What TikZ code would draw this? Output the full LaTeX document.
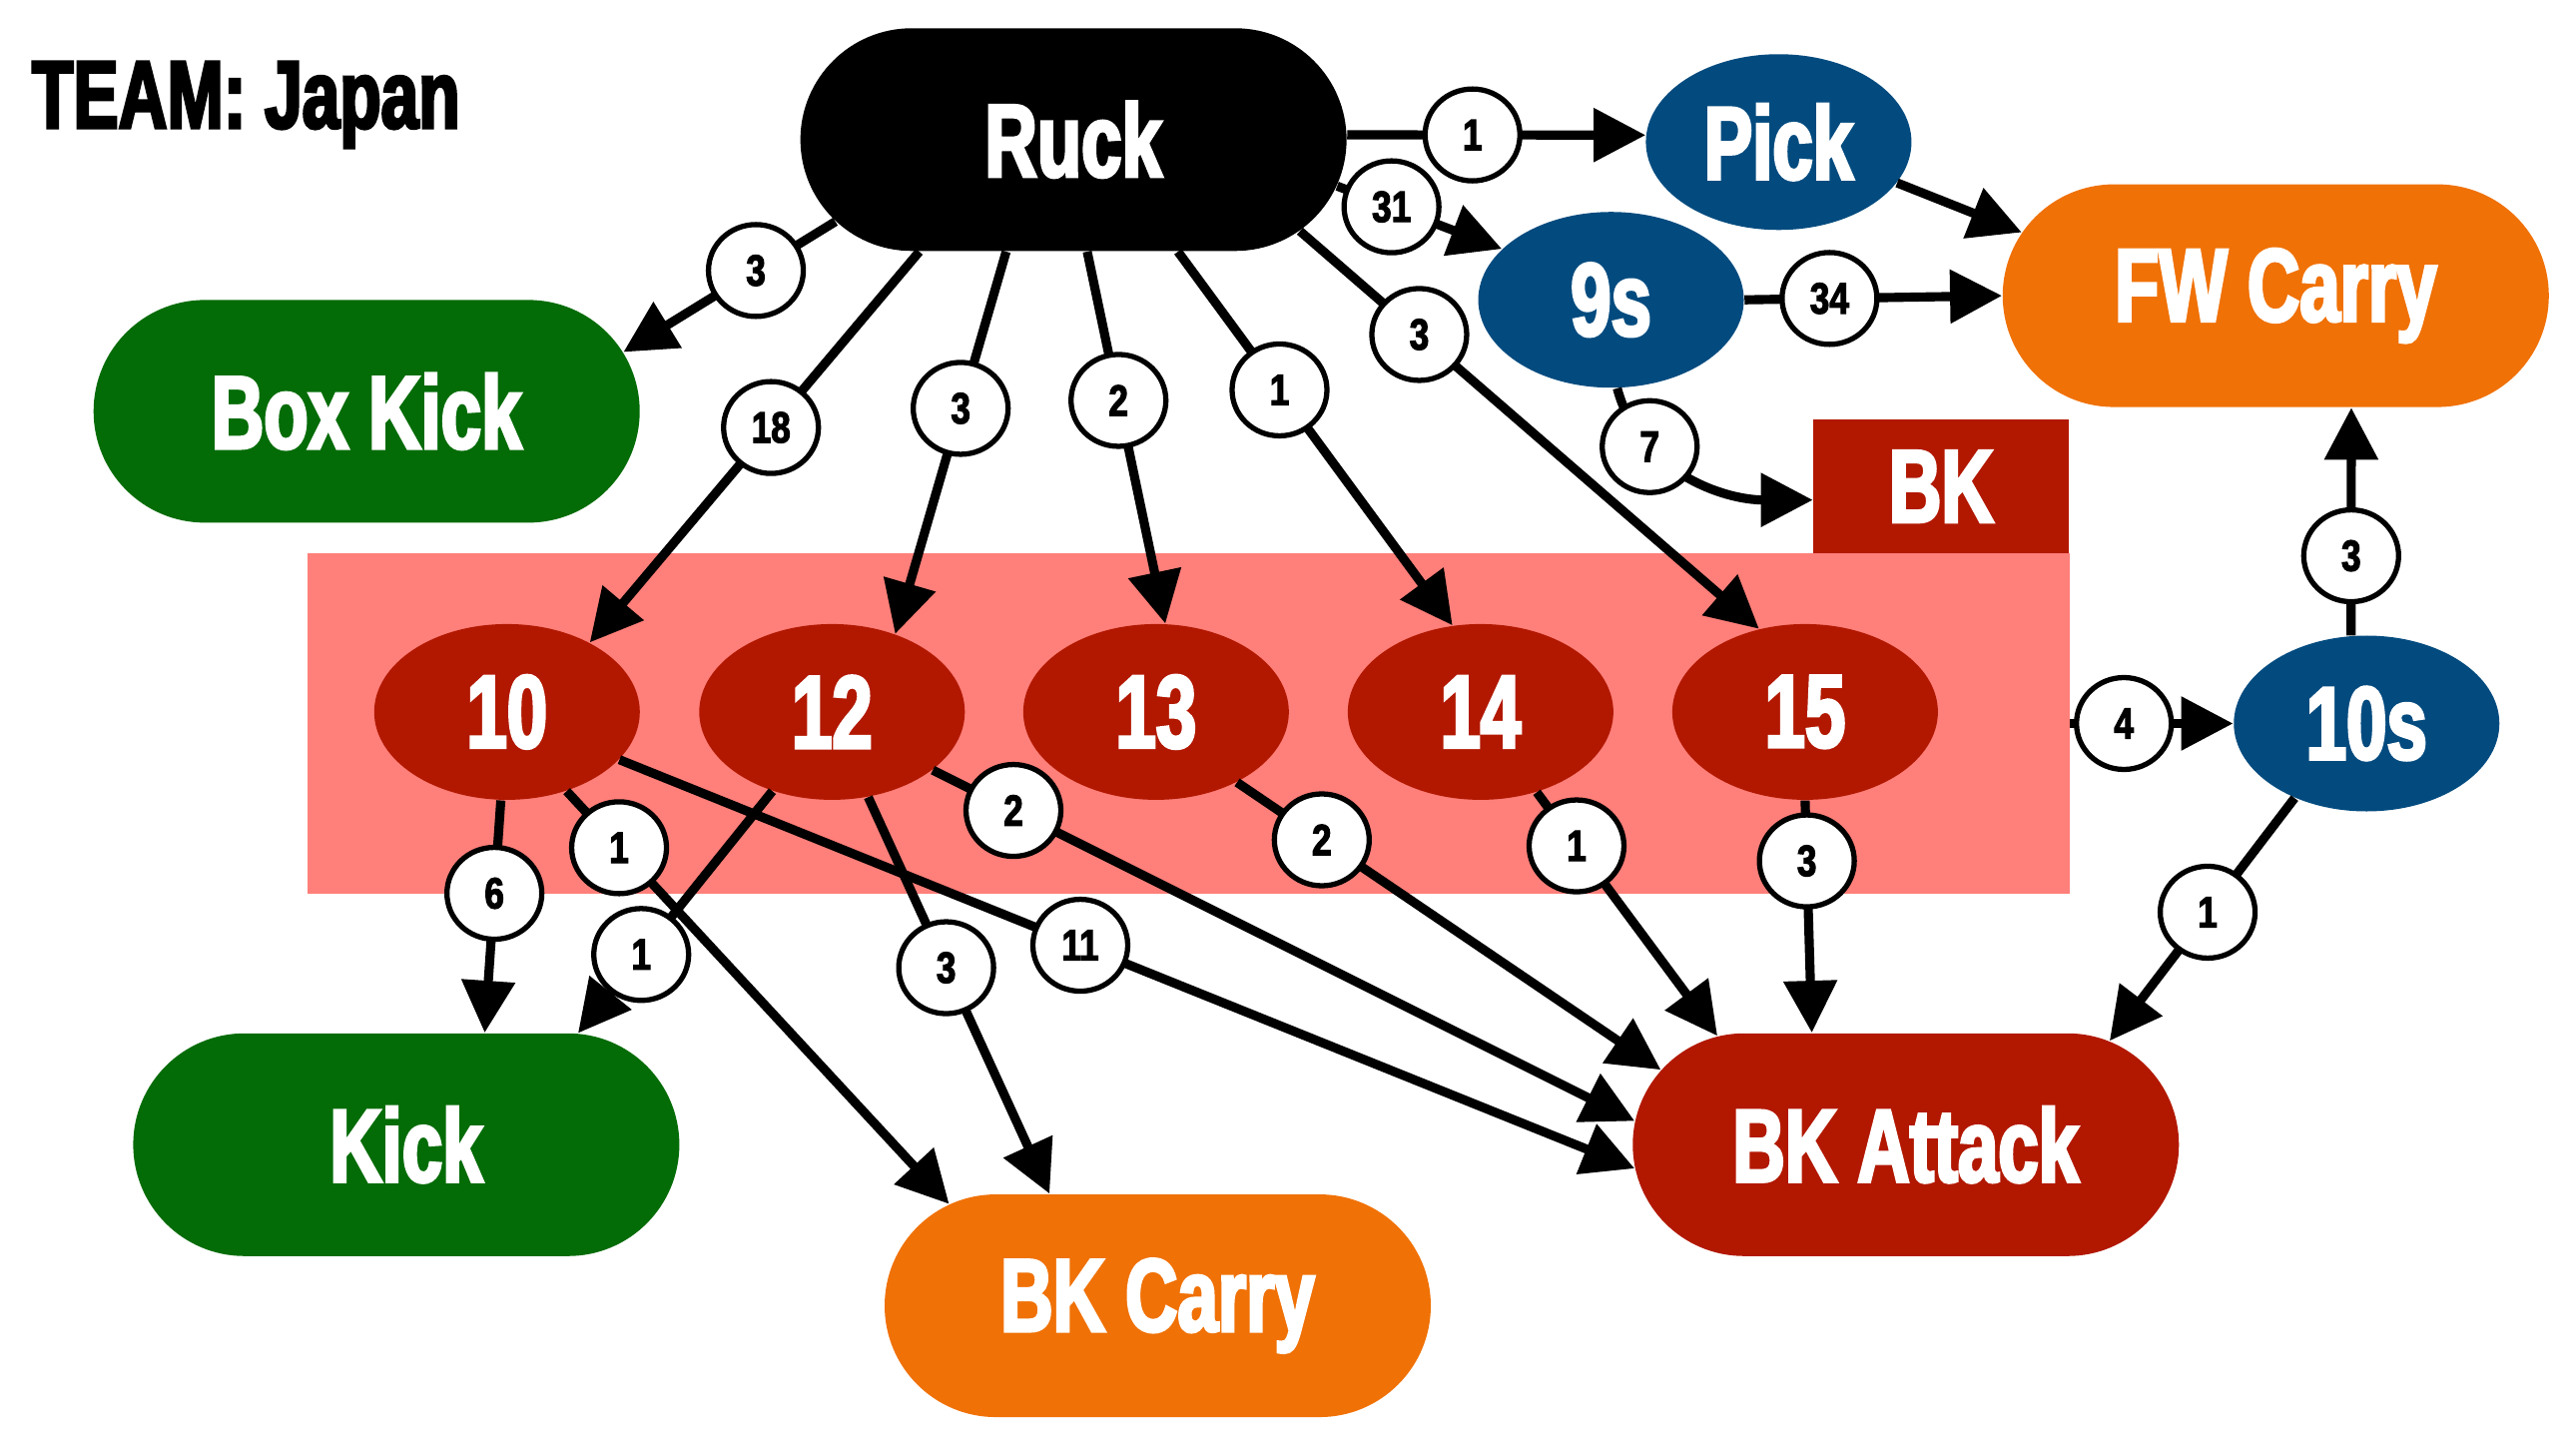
\documentclass[tikz,border=0pt]{standalone}
\usepackage{fontspec}
\usetikzlibrary{shapes.geometric,shapes.misc,arrows.meta}
\newfontfamily\impactfont[FakeStretch=0.70,FakeBold=3]{Liberation Sans Bold}
\newfontfamily\impactnum[FakeStretch=0.80,FakeBold=2.5]{Liberation Sans Bold}
\definecolor{kickgreen}{HTML}{046C07}
\definecolor{podblue}{HTML}{034B7F}
\definecolor{carryorange}{HTML}{F07106}
\definecolor{backred}{HTML}{B21800}
\definecolor{backpink}{HTML}{FF7F7A}

\begin{document}
\begin{tikzpicture}[x=0.01654cm,y=-0.01654cm,
		pill/.style={rounded rectangle,minimum width=5.47cm,minimum height=2.23cm,inner sep=0pt,text=white,font=\impactfont\fontsize{29.5}{30}\selectfont},
		oval/.style={ellipse,minimum width=2.66cm,minimum height=1.76cm,inner sep=0pt,text=white,font=\impactfont\fontsize{29.5}{30}\selectfont},
		tally/.style={ellipse,draw,fill=white,line width=1.5pt,minimum width=0.95cm,minimum height=0.92cm,inner sep=0pt,font=\impactnum\fontsize{12.5}{13}\selectfont},
		flow/.style={line width=2.6pt,-{Triangle[length=0.52cm,width=0.52cm]}}]
	\useasboundingbox (0,0) rectangle (1559.8,877.3);
	\node[anchor=base west,inner sep=0pt,font=\impactfont\fontsize{27.5}{28}\selectfont] (team) at (19,77.5) {TEAM: Japan};
	\node[fill=backpink,minimum width=17.65cm,minimum height=3.41cm,inner sep=0pt] (backs) at (719.5,438) {};
	\node[pill,fill=black] (ruck) at (650,84.5) {Ruck};
	\node[pill,fill=kickgreen] (boxkick) at (222,249) {Box Kick};
	\node[oval,fill=podblue] (pick) at (1077,86) {Pick};
	\node[oval,fill=podblue] (nines) at (975.5,181.5) {9s};
	\node[pill,fill=carryorange] (fwcarry) at (1378,179) {FW Carry};
	\node[rectangle,fill=backred,minimum width=2.56cm,minimum height=1.34cm,inner sep=0pt,text=white,font=\impactfont\fontsize{29.5}{30}\selectfont] (bk) at (1175.5,294.5) {BK};
	\node[oval,fill=backred] (p10) at (307,431) {10};
	\node[oval,fill=backred] (p12) at (503.8,431) {12};
	\node[oval,fill=backred] (p13) at (700,431) {13};
	\node[oval,fill=backred] (p14) at (896.5,431) {14};
	\node[oval,fill=backred] (p15) at (1093,431) {15};
	\node[oval,fill=podblue] (tens) at (1433,438) {10s};
	\node[pill,fill=kickgreen] (kick) at (246,693) {Kick};
	\node[pill,fill=carryorange] (bkcarry) at (701,790.5) {BK Carry};
	\node[pill,fill=backred] (bkattack) at (1154,693) {BK Attack};

	\draw[flow] (ruck.199) -- node[tally,pos=0.375] {3} (boxkick.13);
	\draw[flow] (ruck.216) -- node[tally,pos=0.45] {18} (p10.40);
	\draw[flow] (ruck.239) -- node[tally,pos=0.41] {3} (p12.51);
	\draw[flow] (ruck.277) -- node[tally,pos=0.40] {2} (p13.84);
	\draw[flow] (ruck.313) -- node[tally,pos=0.37] {1} (p14.108);
	\draw[flow] (ruck.338) -- node[tally,pos=0.26] {3} (p15.119);
	\draw[flow] (ruck.1) -- node[tally,pos=0.42] {1} (pick.177);
	\draw[flow] (ruck.350) -- node[tally,pos=0.33] {31} (nines.155);
	\draw[flow] (pick.341) -- (fwcarry.166);
	\draw[flow] (nines.0) -- node[tally,pos=0.33] {34} (fwcarry.180);
	\draw[flow] (nines.274) to[out=-75,in=180] node[tally,pos=0.28] {7} (bk.186);
	\draw[flow] (tens.100) -- node[tally,pos=0.35] {3} (fwcarry.304);
	\draw[flow] (backs.east) -- node[tally,pos=0.33] {4} (tens.west);
	\draw[flow] (tens.226) -- node[tally,pos=0.47] {1} (bkattack.27);
	\draw[flow] (p10.266) -- node[tally,pos=0.40] {6} (kick.55);
	\draw[flow] (p10.307) -- node[tally,pos=0.137] {1} (bkcarry.154);
	\draw[flow] (p10.337) -- node[tally,pos=0.454] {11} (bkattack.185);
	\draw[flow] (p12.233) -- node[tally,pos=0.675] {1} (kick.33);
	\draw[flow] (p12.293) -- node[tally,pos=0.43] {3} (bkcarry.134);
	\draw[flow] (p12.330) -- node[tally,pos=0.115] {2} (bkattack.175);
	\draw[flow] (p13.319) -- node[tally,pos=0.20] {2} (bkattack.163);
	\draw[flow] (p14.305) -- node[tally,pos=0.22] {1} (bkattack.150);
	\draw[flow] (p15.270) -- node[tally,pos=0.26] {3} (bkattack.130);
\end{tikzpicture}
\end{document}
